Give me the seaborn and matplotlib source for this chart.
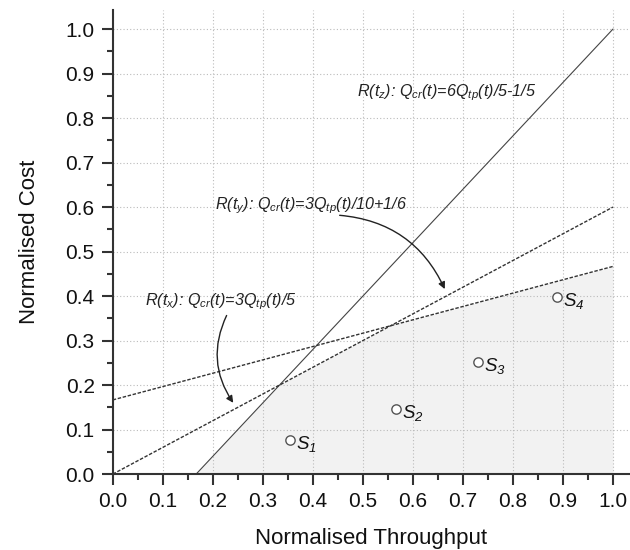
import numpy as np
import pandas as pd
import matplotlib
matplotlib.use('Agg')
import matplotlib.pyplot as plt
import seaborn as sns

# line end points (throughput, cost)
tz_x = [1/6, 1.0]
tz_y = [0.0, 1.0]
ty_x = [0.0, 1.0]
ty_y = [1/6, 0.3 + 1/6]
tx_x = [0.0, 1.0]
tx_y = [0.0, 0.6]

# feasible region boundary
fill_x = [0.0, 1/6, 1/3, 5/9, 1.0]
fill_y = [0.0, 0.0, 0.2, 1/3, 0.3 + 1/6]

# sample points
pt_x = [0.354, 0.566, 0.730, 0.888]
pt_y = [0.076, 0.146, 0.252, 0.398]
pt_lab = ['S$_1$', 'S$_2$', 'S$_3$', 'S$_4$']

ticks = [0.0, 0.1, 0.2, 0.3, 0.4, 0.5, 0.6, 0.7, 0.8, 0.9, 1.0]

sns.set_style('ticks')
plt.rcParams['font.family'] = ['Liberation Sans', 'DejaVu Sans']
plt.rcParams['mathtext.fontset'] = 'custom'
plt.rcParams['mathtext.it'] = 'Liberation Sans:italic'
plt.rcParams['mathtext.rm'] = 'Liberation Sans:italic'
plt.rcParams['mathtext.default'] = 'it'

fig = plt.figure(figsize=(6.3, 5.5), dpi=100)
ax = fig.add_axes([0.179, 0.138, 0.821, 0.844])

ax.fill_between(fill_x, 0, fill_y, color='#f2f2f2', lw=0, zorder=0)

sns.lineplot(x=tz_x, y=tz_y, ax=ax, color='#444444', lw=0.8)
sns.lineplot(x=ty_x, y=ty_y, ax=ax, color='#333333', lw=1.0,
             linestyle=(0, (2.5, 1.2)))
sns.lineplot(x=tx_x, y=tx_y, ax=ax, color='#333333', lw=1.0,
             linestyle=(0, (2.5, 1.2)))

sns.scatterplot(x=pt_x, y=pt_y, ax=ax, s=45, facecolor='white',
                edgecolor='#555555', linewidth=1.0, zorder=5)
for x, y, l in zip(pt_x, pt_y, pt_lab):
    ax.text(x + 0.013, y - 0.008, l, fontsize=13.5, fontstyle='italic',
            va='center', ha='left', color='#111111')

tsize = 11.6
ax.text(0.488, 0.858, 'R(t$_z$): Q$_{cr}$(t)=6Q$_{tp}$(t)/5-1/5', fontsize=tsize,
        fontstyle='italic', va='center', color='#222222')
ax.text(0.204, 0.604, 'R(t$_y$): Q$_{cr}$(t)=3Q$_{tp}$(t)/10+1/6', fontsize=tsize,
        fontstyle='italic', va='center', color='#222222')
ax.text(0.064, 0.387, 'R(t$_x$): Q$_{cr}$(t)=3Q$_{tp}$(t)/5', fontsize=tsize,
        fontstyle='italic', va='center', color='#222222')

ax.annotate('', xy=(0.666, 0.41), xytext=(0.448, 0.582),
            arrowprops=dict(arrowstyle='-|>', color='#222222', lw=1.0,
                            mutation_scale=10,
                            connectionstyle='arc3,rad=-0.3'))
ax.annotate('', xy=(0.244, 0.155), xytext=(0.23, 0.362),
            arrowprops=dict(arrowstyle='-|>', color='#222222', lw=1.0,
                            mutation_scale=10,
                            connectionstyle='arc3,rad=0.3'))

ax.set_xlim(0, 1.034)
ax.set_ylim(0, 1.043)
ax.set_xticks(ticks)
ax.set_yticks(ticks)
ax.set_xticks(np.arange(0.05, 1.0, 0.1), minor=True)
ax.set_yticks(np.arange(0.05, 1.0, 0.1), minor=True)
ax.set_xticklabels(['%.1f' % t for t in ticks])
ax.set_yticklabels(['%.1f' % t for t in ticks])
ax.grid(True, which='major', color='#bbbbbb', linestyle=(0, (1, 2)), lw=0.8)
ax.set_axisbelow(True)

ax.tick_params(which='major', length=8, width=1.5, labelsize=15,
               colors='#333333', labelcolor='#111111', pad=5)
ax.tick_params(which='minor', length=4, width=1.5, colors='#333333')
for s in ['top', 'right']:
    ax.spines[s].set_visible(False)
for s in ['left', 'bottom']:
    ax.spines[s].set_linewidth(1.5)
    ax.spines[s].set_color('#333333')

ax.set_xlabel('Normalised Throughput', fontsize=16, labelpad=12, color='#111111')
ax.set_ylabel('Normalised Cost', fontsize=16, labelpad=18, color='#111111')

fig.savefig('out.png', dpi=100)
